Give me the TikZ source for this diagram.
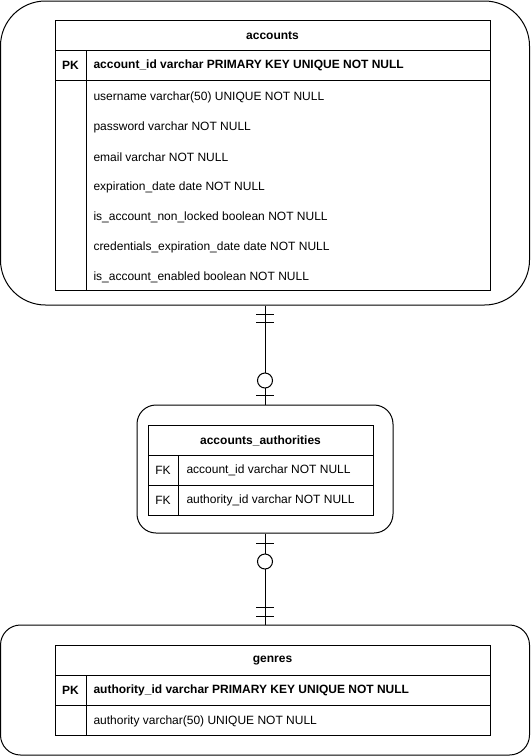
\documentclass[tikz,border=0pt]{standalone}
\usepackage{fontspec}
\setmainfont{Liberation Sans}
\usetikzlibrary{calc}
\begin{document}
\begin{tikzpicture}[x=1pt,y=-1pt,line width=1pt,
  frame/.style={draw,rounded corners=#1,inner sep=0pt,line width=1pt},
  grid/.style={draw,line width=1pt},
  txt/.style={font=\fontsize{12}{14}\selectfont,anchor=west,inner sep=0pt},
  head/.style={font=\fontsize{12}{14}\selectfont\bfseries,inner sep=0pt},
  key/.style={font=\fontsize{12}{14}\selectfont,inner sep=0pt},
  pkey/.style={font=\fontsize{12}{14}\selectfont\bfseries,inner sep=0pt},
  bar/.style={draw,line width=1pt},
  ring/.style={draw,fill=white,circle,inner sep=0pt,minimum size=15pt,line width=1pt}]
\useasboundingbox (0,0) rectangle (531,756);

% ---------- accounts ----------
\node[frame=45pt,minimum width=529pt,minimum height=304pt] (accbox) at (265,153) {};
\draw[grid] (55,20) rectangle (490,290);
\draw[grid] (55,50) -- (490,50);
\draw[grid] (55,80) -- (490,80);
\draw[grid] (86,50) -- (86,290);
\node[head] (acch) at (272.5,35.5) {accounts};
\node[pkey] (accpk) at (70.5,65.5) {PK};
\node[txt,font=\fontsize{12}{14}\selectfont\bfseries] (acc0) at (93,65.5) {account\_id varchar PRIMARY KEY UNIQUE NOT NULL};
\node[txt] (acc1) at (93,97) {username varchar(50) UNIQUE NOT NULL};
\node[txt] (acc2) at (93,127) {password varchar NOT NULL};
\node[txt] (acc3) at (93,157) {email varchar NOT NULL};
\node[txt] (acc4) at (93,187) {expiration\_date date NOT NULL};
\node[txt] (acc5) at (93,217) {is\_account\_non\_locked boolean NOT NULL};
\node[txt] (acc6) at (93,247) {credentials\_expiration\_date date NOT NULL};
\node[txt] (acc7) at (93,277) {is\_account\_enabled boolean NOT NULL};

% ---------- accounts_authorities ----------
\node[frame=19pt,minimum width=256pt,minimum height=128pt] (aabox) at (265,469) {};
\draw[grid] (148,425) rectangle (373,515);
\draw[grid] (148,455) -- (373,455);
\draw[grid] (148,485) -- (373,485);
\draw[grid] (178,455) -- (178,515);
\node[head] (aah) at (260.5,440.5) {accounts\_authorities};
\node[key] (aafk1) at (163,470.5) {FK};
\node[key] (aafk2) at (163,500.5) {FK};
\node[txt] (aa1) at (186,470.5) {account\_id varchar NOT NULL};
\node[txt] (aa2) at (186,500.5) {authority\_id varchar NOT NULL};

% ---------- genres ----------
\node[frame=20pt,minimum width=529pt,minimum height=130pt] (genbox) at (265,690) {};
\draw[grid] (55,645) rectangle (490,735);
\draw[grid] (55,675) -- (490,675);
\draw[grid] (55,705) -- (490,705);
\draw[grid] (86,675) -- (86,735);
\node[head] (genh) at (272.5,660.5) {genres};
\node[pkey] (genpk) at (70.5,690.5) {PK};
\node[txt,font=\fontsize{12}{14}\selectfont\bfseries] (gen0) at (93,690.5) {authority\_id varchar PRIMARY KEY UNIQUE NOT NULL};
\node[txt] (gen1) at (93,721) {authority varchar(50) UNIQUE NOT NULL};

% ---------- relationships ----------
% accounts (mandatory one) -- accounts_authorities (zero or one)
\draw (accbox.south) -- (aabox.north);
\draw[bar] ($(accbox.south)+(-9,9)$) -- ++(18,0);
\draw[bar] ($(accbox.south)+(-9,17)$) -- ++(18,0);
\node[ring] (r1) at ($(aabox.north)+(0,-24)$) {};
\draw[bar] ($(aabox.north)+(-9,-9)$) -- ++(18,0);

% accounts_authorities (zero or one) -- genres (mandatory one)
\draw (aabox.south) -- (genbox.north);
\draw[bar] ($(aabox.south)+(-9,10)$) -- ++(18,0);
\node[ring] (r2) at ($(aabox.south)+(0,28)$) {};
\draw[bar] ($(genbox.north)+(-9,-17)$) -- ++(18,0);
\draw[bar] ($(genbox.north)+(-9,-8)$) -- ++(18,0);
\end{tikzpicture}
\end{document}
